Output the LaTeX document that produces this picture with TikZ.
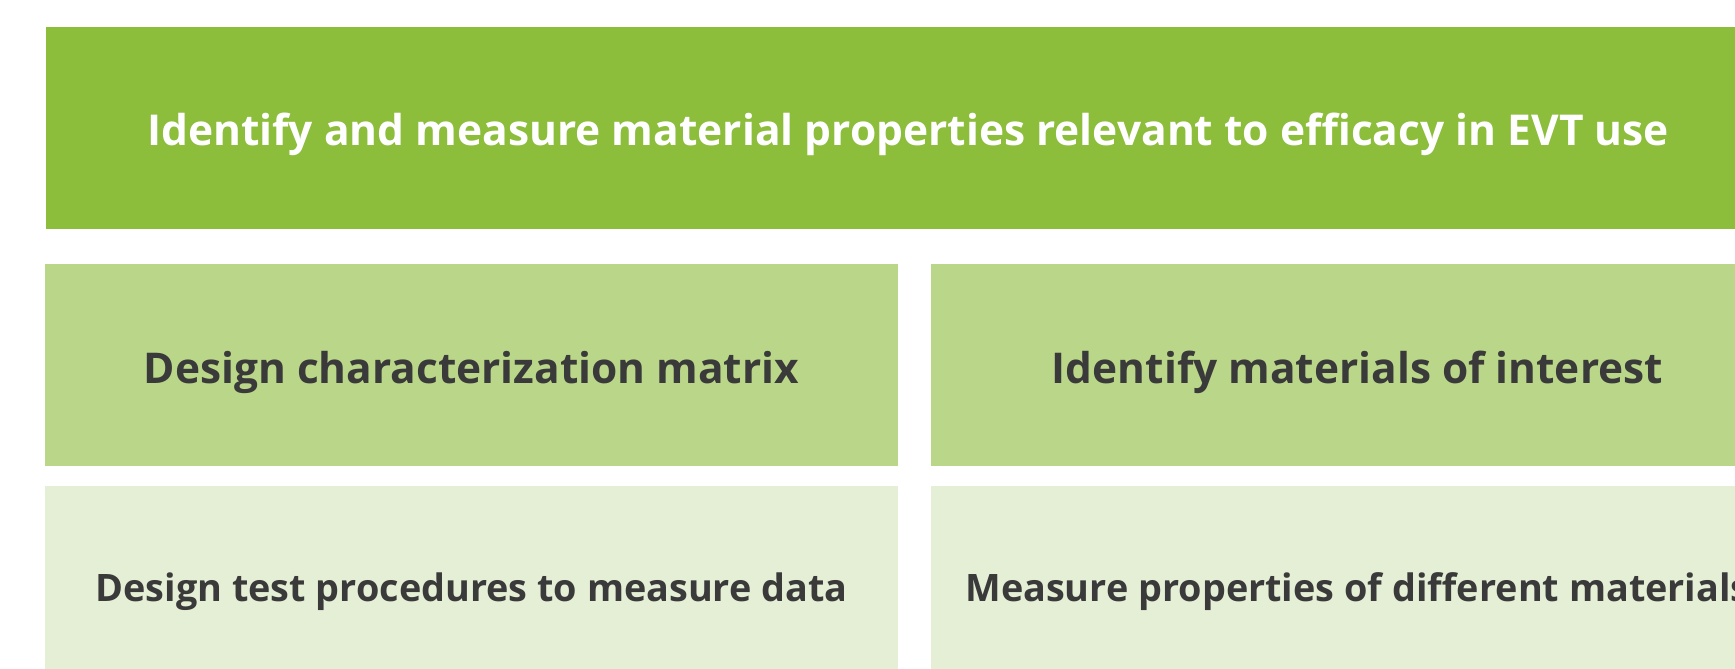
\documentclass[tikz,border=0pt]{standalone}
\usepackage{fontspec}
\setmainfont{Open Sans}
\definecolor{topgreen}{HTML}{8CBD3B}
\definecolor{midgreen}{HTML}{BAD789}
\definecolor{lowgreen}{HTML}{E5EFD6}
\definecolor{darktext}{HTML}{3A3A3A}
\tikzset{
  panel/.style={rectangle, inner sep=0pt, outer sep=0pt, minimum height=202pt, text depth=0pt},
  toppanel/.style={panel, fill=topgreen, text=white, minimum width=1724pt, text height=34pt, font=\fontsize{42.5}{48}\selectfont\bfseries},
  midpanel/.style={panel, fill=midgreen, text=darktext, minimum width=853pt, text height=36pt, font=\fontsize{42.4}{48}\selectfont\bfseries},
  lowpanel/.style={panel, fill=lowgreen, text=darktext, minimum width=853pt, text height=28pt, font=\fontsize{37.8}{44}\selectfont\bfseries}
}
\begin{document}
\begin{tikzpicture}[x=1pt,y=1pt]
\useasboundingbox (0,0) rectangle (1735,-669);
\clip (0,0) rectangle (1735,-669);
\fill[white] (0,0) rectangle (1735,-669);
\node[toppanel] (goal) at (908,-128) {Identify and measure material properties relevant to efficacy in EVT use};
\node[midpanel] (matrix) at (471.5,-365) {Design characterization matrix};
\node[midpanel] (materials) at (1357.5,-365) {Identify materials of interest};
\node[lowpanel] (procedures) at (471.5,-587) {Design test procedures to measure data};
\node[lowpanel] (measure) at (1357.5,-587) {Measure properties of different materials};
\end{tikzpicture}
\end{document}
